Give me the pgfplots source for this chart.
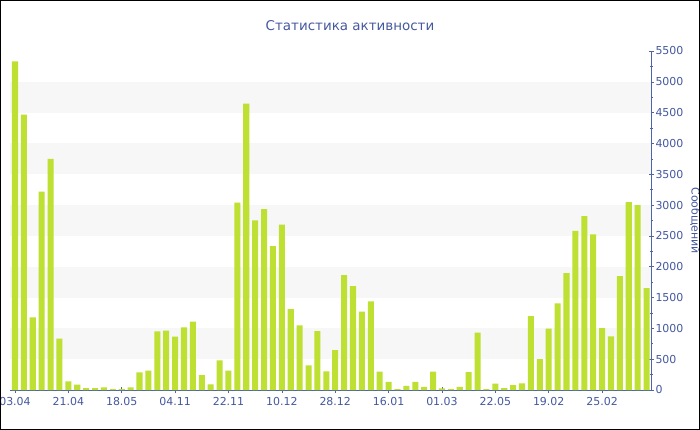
\documentclass[border=0pt]{standalone}
\usepackage{fontspec}
\setmainfont{DejaVu Sans}
\usepackage{pgfplots}
\usepackage{pgfplotstable}
\pgfplotsset{compat=1.18}
\definecolor{barc}{RGB}{189,224,50}
\definecolor{txtc}{RGB}{68,88,158}
\definecolor{axc}{RGB}{80,100,168}
\definecolor{band}{RGB}{247,247,247}
\pgfplotstableread{
x y
0 5333
1 4468
2 1178
3 3220
4 3750
5 832
6 140
7 86
8 32
9 32
10 43
11 16
12 16
13 43
14 286
15 313
16 951
17 962
18 864
19 1016
20 1108
21 243
22 92
23 481
24 313
25 3042
26 4647
27 2750
28 2934
29 2334
30 2685
31 1313
32 1048
33 400
34 956
35 303
36 648
37 1864
38 1686
39 1270
40 1437
41 297
42 130
43 16
44 65
45 130
46 49
47 297
48 27
49 16
50 49
51 291
52 929
53 16
54 103
55 32
56 81
57 108
58 1199
59 502
60 994
61 1405
62 1896
63 2583
64 2820
65 2523
66 1005
67 870
68 1848
69 3047
70 2999
71 1653
}\datatable
\begin{document}
\begin{tikzpicture}
\begin{axis}[
  at={(10bp,40bp)}, anchor=south west,
  scale only axis, width=641bp, height=339bp,
  xmin=-0.56, xmax=71.5, ymin=0, ymax=5500,
  axis x line*=bottom, axis y line*=right,
  axis line style={axc, line width=0.8pt},
  xtick={0,6,...,66},
  xticklabels={03.04,21.04,18.05,04.11,22.11,10.12,28.12,16.01,01.03,22.05,19.02,25.02},
  ytick={0,500,...,5500},
  minor y tick num=1,
  tick style={axc, line width=0.6pt},
  major tick length=5bp, minor tick length=3bp,
  tick align=center,
  ticklabel style={txtc, font=\fontsize{11}{13}\selectfont},
  /pgf/number format/assume math mode=true,
  /pgf/number format/set thousands separator={},
  yticklabel style={xshift=-1.5bp},
  xticklabel style={yshift=-1bp},
  every axis y label/.style={at={(axis description cs:1,0.5)}, rotate=-90, anchor=center, yshift=44bp},
  ylabel={Сообщений},
  ylabel style={txtc, font=\fontsize{11}{13}\selectfont},
  clip=false,
]
\fill[band] (axis cs:-0.56,500) rectangle (axis cs:71.5,1000);
\fill[band] (axis cs:-0.56,1500) rectangle (axis cs:71.5,2000);
\fill[band] (axis cs:-0.56,2500) rectangle (axis cs:71.5,3000);
\fill[band] (axis cs:-0.56,3500) rectangle (axis cs:71.5,4000);
\fill[band] (axis cs:-0.56,4500) rectangle (axis cs:71.5,5000);
\addplot[ybar, bar width=0.68, fill=barc, draw=none] table[x=x,y=y] {\datatable};
\end{axis}
\node[txtc, font=\fontsize{13.5}{16}\selectfont] at (350bp,404bp) {Статистика активности};
\draw[black, line width=1bp] (0.5bp,0.5bp) rectangle (699.5bp,429.5bp);
\pgfresetboundingbox
\path[use as bounding box] (0,0) rectangle (700bp,430bp);
\end{tikzpicture}
\end{document}
